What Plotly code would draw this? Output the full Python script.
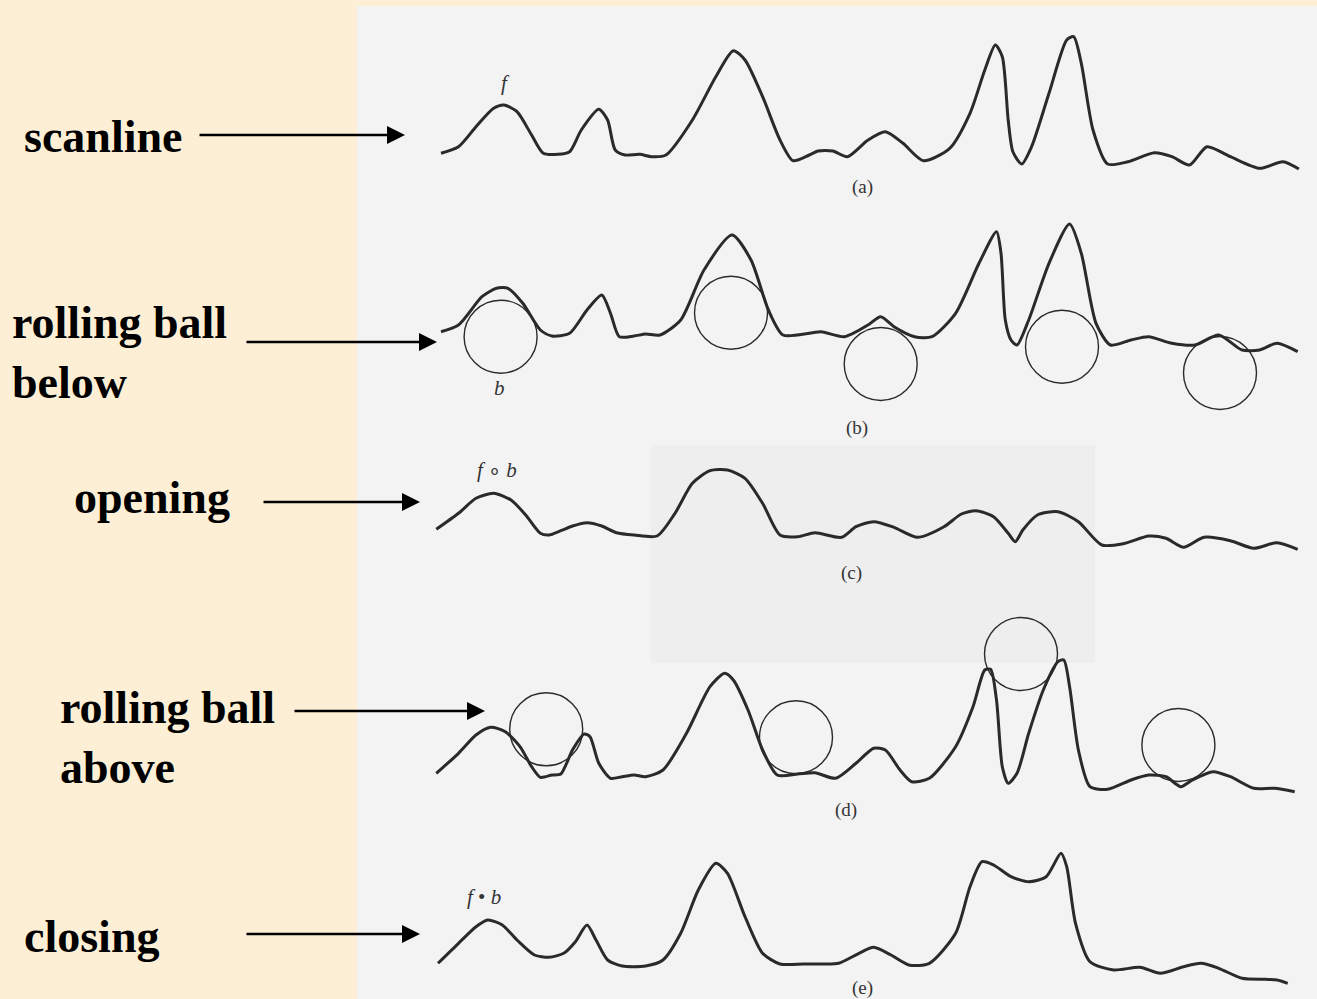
import plotly.graph_objects as go

# ---- scanline profiles: position along the line, grey level ----
pos_a = [1, 18.5, 36, 53.6, 64, 77, 91.6, 103.3, 118, 129.6, 141.3, 158.8, 167.6, 175.2, 185, 199.8,
         211.5, 226, 252.4, 275.8, 293.3, 305, 322.6, 340, 353, 369.4, 378, 392.8, 407.4, 428, 445.4,
         463, 483.4, 509.7, 530, 544.8, 555.3, 562.3, 568.2, 572.9, 581.7, 591.6, 609, 626.7, 633.7,
         641.3, 653, 667.6, 688, 714.4, 732, 749.5, 767, 790.4, 819.7, 843, 858.9]
scanline = [21.7, 28.3, 48.3, 66.7, 70, 63.3, 40, 21.7, 20.7, 23.3, 45, 65.7, 55, 25, 20, 20.7,
            18.3, 20, 55, 98.3, 124.3, 115, 78.3, 35, 14.3, 20, 24, 24, 18.3, 35, 43.3,
            31.7, 14.3, 26.7, 61.7, 105, 130, 118.3, 55, 23.3, 11, 28.3, 81.7, 135, 138.3,
            111.7, 45, 11, 13.3, 22.3, 18.3, 10, 28.3, 18.3, 6.7, 13.3, 6]

pos_b = [1, 18.5, 42, 56.5, 68, 82.8, 100.4, 112, 129.6, 147, 161.8, 170.5, 179.3, 194, 205.6, 220,
         240.7, 264, 292, 311, 328.4, 343, 369.4, 381, 404.5, 428, 440.7, 454, 474.6, 492, 515.6,
         539, 556.5, 561, 565.3, 571, 577, 588.7, 609, 629.6, 641.3, 656, 670.5, 691, 708.6, 732,
         755, 778.7, 802, 819.7, 837, 857.7]
ball_below_profile = [23.3, 30, 58.3, 66.7, 66.7, 51.7, 25, 19, 21.7, 45, 60, 41.7, 18.3, 19, 21, 20,
                      35, 85, 120, 95, 45, 20, 21.7, 23.3, 18.3, 30, 38.3, 28.3, 18.3, 18.3, 41.7,
                      91.7, 123.3, 101.7, 35, 15, 10, 35, 91.7, 131, 101.7, 31.7, 10, 15, 18.3, 11.7,
                      10, 20, 5, 5, 11.7, 3.3]

pos_c = [-3.7, 18.5, 36, 53.6, 71, 85.7, 100.4, 109, 120.8, 132.5, 147, 161.8, 176.4, 194, 217, 235,
         252.4, 270, 287.5, 305, 322.6, 340, 357.7, 375, 401.5, 416, 433.7, 454, 477.6, 504, 521.4,
         536, 553.6, 568.2, 575.2, 582.8, 597.4, 618, 638.4, 661.8, 685, 708.6, 726, 743.6, 764,
         790.4, 813.8, 837, 857.7]
opening = [25.7, 41.7, 56.7, 61.7, 55, 40, 21.7, 20, 24.3, 29, 32.3, 29, 22.3, 20, 19, 41.7,
           71.7, 84.3, 85, 76.7, 51.7, 20, 18.3, 22.3, 17.7, 28.3, 33.3, 27.7, 17.7, 28.3, 41,
           44.3, 38.3, 21.7, 13.3, 25, 40, 43.3, 33.3, 10, 11.7, 19, 16.7, 7.7, 17.7,
           14.3, 6.7, 12.3, 5.7]

pos_d = [-3.7, 18.5, 36, 50.6, 65.3, 80, 91.6, 100.4, 112, 120.8, 132.5, 144.2, 150, 158.8, 170.5,
         182.2, 194, 205.6, 223, 246.5, 270, 284.6, 293.3, 308, 322.6, 337.2, 357.7, 375, 395.7, 416,
         433.7, 445.4, 460, 471.7, 489.3, 515.6, 533, 544.8, 550.6, 556.5, 562.3, 568.2, 577, 588.7,
         603.3, 618, 623.8, 629.6, 638.4, 650, 667.6, 691, 708.6, 726, 740.7, 752.4, 773, 790.4,
         813.8, 834.3, 854.7]
ball_above_profile = [26.7, 46.7, 65, 72.7, 68.3, 53.3, 33.3, 22.7, 25, 26, 50, 66, 63.3, 36.7, 21.7,
                      23.3, 25, 23.3, 30, 66.7, 113.3, 126.7, 120, 90, 50, 25, 26, 27.3, 21.7, 36.7,
                      51.7, 50, 30, 18.3, 21.7, 53.3, 93.3, 130, 130.7, 100, 33.3, 16.7, 26.7, 66.7,
                      110, 138.3, 140, 113.3, 50, 13.3, 10.7, 20, 25, 23.3, 13.3, 20, 28.3, 23.3,
                      11.7, 11.7, 8.3]

pos_e = [-2, 18.5, 36, 47.7, 62.3, 77, 94.5, 109, 123.7, 135.4, 147, 156, 167.6, 182.2, 205.6, 223,
         240.7, 258.3, 275.8, 287.5, 305, 322.6, 340, 363.5, 381, 398.6, 419, 433.7, 451, 468.8,
         489.3, 515.6, 530, 542, 553.6, 571, 588.7, 606.2, 621, 626.7, 635.5, 650, 673.5, 699.8,
         720.3, 743.6, 761, 778.7, 802, 825.5, 837, 847.7]
closing = [26.7, 46.7, 63.3, 70, 65, 50, 35, 32.7, 36.7, 48.3, 65, 50, 30, 24, 24, 30,
           56.7, 100, 126.7, 116.7, 73.3, 36.7, 26, 26, 26, 26.7, 36.7, 42.7, 35, 25,
           26.7, 56.7, 103.3, 128.3, 125, 113.3, 108.3, 113.3, 136.7, 123.3, 66.7, 28.3, 20, 22.7,
           16.7, 23.3, 26.7, 21.7, 11.7, 10.7, 10, 6.7]

# ---- structuring element (ball) positions: centre along the line, centre level ----
ball_radius = 36.5
below_cx = [60.6, 291, 440.7, 622, 780]
below_cy = [18.3, 42.3, -9, 8.3, -18]
above_cx = [106.2, 356, 581, 738.4]
above_cy = [70.7, 62.7, 146, 55]

# ---- text ----
left_labels = ["scanline", "rolling ball<br>below", "opening", "rolling ball<br>above", "closing"]
panel_tags = ["(a)", "(b)", "(c)", "(d)", "(e)"]

W, H = 1317, 999
INK = "#2a2a2a"
SERIF = "Liberation Serif"

fig = go.Figure()

panels = [
    ("y", pos_a, scanline, 175),
    ("y2", pos_b, ball_below_profile, 355),
    ("y3", pos_c, opening, 555),
    ("y4", pos_d, ball_above_profile, 800),
    ("y5", pos_e, closing, 990),
]

for yref, xs, ys, base in panels:
    fig.add_trace(go.Scatter(
        x=xs, y=ys, xaxis="x", yaxis=yref, mode="lines",
        line=dict(color=INK, width=3, shape="spline", smoothing=0.7),
        hoverinfo="skip", showlegend=False,
    ))

# page of the book
fig.add_shape(type="rect", xref="paper", yref="paper", x0=357 / W, x1=1, y0=0, y1=1 - 6 / H,
              fillcolor="#f3f3f3", line=dict(width=0), layer="below")
fig.add_shape(type="rect", xref="paper", yref="paper", x0=651 / W, x1=1095 / W,
              y0=1 - 663 / H, y1=1 - 445 / H,
              fillcolor="#eeeeee", line=dict(width=0), layer="below")

# balls
for cx, cy in zip(below_cx, below_cy):
    fig.add_shape(type="circle", xref="x", yref="y2",
                  x0=cx - ball_radius, x1=cx + ball_radius,
                  y0=cy - ball_radius, y1=cy + ball_radius,
                  line=dict(color=INK, width=1.4))
for cx, cy in zip(above_cx, above_cy):
    fig.add_shape(type="circle", xref="x", yref="y4",
                  x0=cx - ball_radius, x1=cx + ball_radius,
                  y0=cy - ball_radius, y1=cy + ball_radius,
                  line=dict(color=INK, width=1.4))


def px(xp, yp):
    return xp / W, 1 - yp / H


# left labels
label_pos = [(22, 136), (10, 352), (72, 497), (58, 737), (22, 936)]
for txt, (lx, ly) in zip(left_labels, label_pos):
    xx, yy = px(lx, ly)
    fig.add_annotation(x=xx, y=yy, xref="paper", yref="paper", text="<b>" + txt + "</b>",
                       showarrow=False, xanchor="left", yanchor="middle", align="left",
                       font=dict(family=SERIF, size=46, color="#000000"))

# arrows
arrows = [((198, 135), (405, 135)), ((245, 342), (437, 342)), ((262, 502), (420, 502)),
          ((293, 711), (485, 711)), ((245, 934), (420, 934))]
for (tx, ty), (hx, hy) in arrows:
    xx, yy = px(hx, hy)
    fig.add_annotation(x=xx, y=yy, xref="paper", yref="paper", text="",
                       showarrow=True, ax=tx - hx, ay=ty - hy, axref="pixel", ayref="pixel",
                       arrowhead=2, arrowsize=1.5, arrowwidth=2.4, arrowcolor="#000000",
                       standoff=0, startstandoff=0)

# panel tags
tag_pos = [(862, 187), (857, 428), (851, 573), (846, 810), (862, 988)]
for txt, (lx, ly) in zip(panel_tags, tag_pos):
    xx, yy = px(lx, ly)
    fig.add_annotation(x=xx, y=yy, xref="paper", yref="paper", text=txt, showarrow=False,
                       xanchor="center", yanchor="middle",
                       font=dict(family=SERIF, size=19, color="#333333"))

# function symbols
sym = [("<i>f</i>", 505, 83), ("<i>b</i>", 499, 388), ("<i>f</i> ∘ <i>b</i>", 497, 470),
       ("<i>f</i> • <i>b</i>", 484, 897)]
for txt, lx, ly in sym:
    xx, yy = px(lx, ly)
    fig.add_annotation(x=xx, y=yy, xref="paper", yref="paper", text=txt, showarrow=False,
                       xanchor="center", yanchor="middle",
                       font=dict(family=SERIF, size=21, color="#333333"))

hidden = dict(visible=False, showgrid=False, zeroline=False, fixedrange=True)
layout_axes = dict(xaxis=dict(domain=[0, 1], range=[-440, W - 440], **hidden))
for i, (yref, _, _, base) in enumerate(panels):
    name = "yaxis" if i == 0 else "yaxis%d" % (i + 1)
    ax = dict(domain=[0, 1], range=[base - H, base], **hidden)
    if i > 0:
        ax["overlaying"] = "y"
    layout_axes[name] = ax

fig.update_layout(
    width=W, height=H, margin=dict(l=0, r=0, t=0, b=0),
    paper_bgcolor="#fcefd5", plot_bgcolor="rgba(0,0,0,0)",
    showlegend=False, **layout_axes,
)

fig.write_html("out.html", config={"displayModeBar": False})
